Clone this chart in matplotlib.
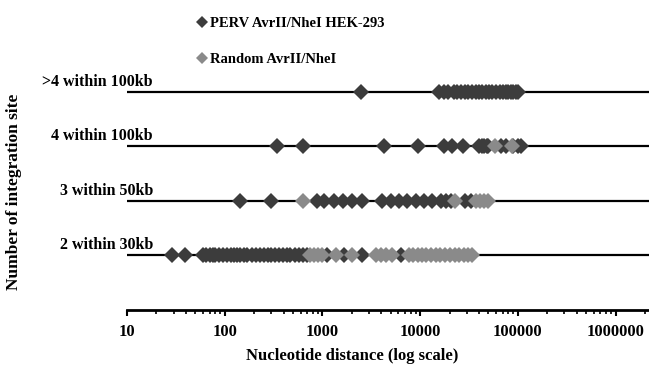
import matplotlib.pyplot as plt
from matplotlib.ticker import LogLocator, NullFormatter, FixedLocator

plt.rcParams['font.family'] = ['Liberation Serif', 'DejaVu Serif']
plt.rcParams['font.weight'] = 'bold'

# rows, bottom to top
row_labels = ["2 within 30kb", "3 within 50kb", "4 within 100kb", ">4 within 100kb"]
xticks = [10, 100, 1000, 10000, 100000, 1000000]

# PERV AvrII/NheI HEK-293 distances (bp)
perv_2 = [29, 39, 60, 65, 70, 75, 80, 88, 96, 105, 115, 125, 135, 145, 158, 170,
          190, 210, 230, 250, 275, 300, 330, 360, 395, 430, 470, 520, 570, 630,
          700, 1120, 1670, 2550, 6400]
perv_3 = [145, 300, 870, 1050, 1320, 1640, 2030, 2560, 4100, 5000, 6100, 7400,
          9100, 11000, 13300, 16300, 18500, 20500, 29000, 33000]
perv_4 = [340, 630, 4300, 9600, 17500, 21000, 27500, 40000, 43000, 45000, 48000,
          50000, 68000, 76000, 90000, 100000, 107000]
perv_gt4 = [2500, 15500, 17500, 19500, 22000, 24000, 26000, 28500, 31000, 34000,
            37000, 40000, 43000, 47000, 51000, 55000, 60000, 65000, 70000, 75000,
            80000, 85000, 90000, 95000, 100000]

# Random AvrII/NheI distances (bp)
rand_2 = [740, 820, 900, 1000, 1390, 2030, 3550, 4000, 4500, 5100, 7700, 8500,
          9500, 10500, 11500, 13000, 14500, 16000, 18000, 20000, 22500, 25000,
          28000, 31000, 34000]
rand_3 = [640, 22800, 37000, 41000, 45000, 50000]
rand_4 = [58000, 87000]

perv = [perv_2, perv_3, perv_4, perv_gt4]
rand = [rand_2, rand_3, rand_4, []]

dark = '#3c3c3c'
grey = '#8a8a8a'

fig = plt.figure(figsize=(6.49, 3.78), dpi=100)
ax = fig.add_axes([127 / 649, 1 - 310 / 378, 1 - 127 / 649, 300 / 378])

xmax = 2.2e6
rows = list(range(1, len(row_labels) + 1))
ax.hlines(rows, 10, xmax, color='black', lw=1.6, zorder=1)

for i, vals in enumerate(perv):
    ax.plot(vals, [rows[i]] * len(vals), 'D', color=dark, ms=8, mew=0, zorder=2,
            label='PERV AvrII/NheI HEK-293' if i == 0 else None)
for i, vals in enumerate(rand):
    if vals:
        ax.plot(vals, [rows[i]] * len(vals), 'D', color=grey, ms=8, mew=0, zorder=3,
                label='Random AvrII/NheI' if i == 0 else None)

for r, lab in zip(rows, row_labels):
    ax.text(18.5, r + 0.04, lab, ha='right', va='bottom', fontsize=11.5,
            fontweight='bold')

ax.set_xscale('log')
ax.set_xlim(10, xmax)
ax.set_ylim(0, 5.5)
for s in ['top', 'right', 'left']:
    ax.spines[s].set_visible(False)
ax.spines['bottom'].set_linewidth(2)
ax.set_yticks([])
ax.xaxis.set_major_locator(FixedLocator(xticks))
ax.set_xticklabels([str(t) for t in xticks])
ax.xaxis.set_minor_locator(LogLocator(base=10, subs=range(2, 10)))
ax.xaxis.set_minor_formatter(NullFormatter())
ax.tick_params(axis='x', which='major', direction='out', length=4, width=1.5,
               pad=6, labelsize=12)
ax.tick_params(axis='x', which='minor', direction='out', length=3, width=1.2)

fig.text(352 / 649, 1 - 356 / 378, 'Nucleotide distance (log scale)', ha='center',
         va='center', fontsize=12, fontweight='bold')
fig.text(14 / 649, 1 - 192 / 378, 'Number of integration site', rotation=90,
         ha='center', va='center', fontsize=12.5, fontweight='bold')

ax.legend(loc='upper left', bbox_to_anchor=(192 / 649, 1 - 11 / 378),
          bbox_transform=fig.transFigure, frameon=False, fontsize=10.5,
          handlelength=0.6, handletextpad=0.2, labelspacing=1.55, markerscale=0.8,
          borderaxespad=0)

fig.savefig('out.png', dpi=100)
